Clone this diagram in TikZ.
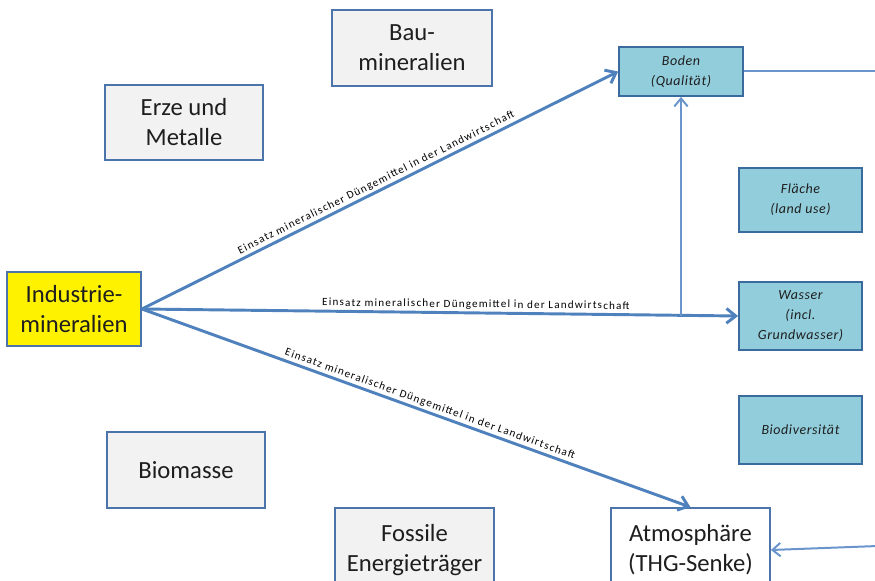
\documentclass[tikz,border=0pt]{standalone}
\usepackage{fontspec}
\setmainfont{Carlito}
\newfontfamily\lblfont[LetterSpace=11]{Carlito}
\newfontfamily\itfont[LetterSpace=4]{Carlito}
\usetikzlibrary{arrows.meta,calc}
\definecolor{grayfill}{HTML}{F2F2F2}
\definecolor{grayborder}{HTML}{4A74AA}
\definecolor{bluefill}{HTML}{92CDDC}
\definecolor{blueborder}{HTML}{3A6A9E}
\definecolor{arrowblue}{HTML}{4F81BD}
\definecolor{lightarrow}{HTML}{6A95CC}
\definecolor{txt}{HTML}{1E1E1E}
\tikzset{
  graybox/.style={draw=grayborder, fill=grayfill, line width=1.3pt, align=center, inner sep=0pt,
    text=txt, font=\fontsize{18.5}{22.5}\selectfont},
  yellowbox/.style={graybox, fill=yellow},
  whitebox/.style={graybox, fill=white},
  bluebox/.style={draw=blueborder, fill=bluefill, line width=1.3pt, align=center, inner sep=0pt,
    text=txt, font=\itfont\itshape\fontsize{10.5}{15}\selectfont},
  conn/.style={draw=arrowblue, line width=2.2pt},
  thinconn/.style={draw=lightarrow, line width=1.5pt},
  arr/.style={conn, -{Straight Barb[length=7pt,width=11pt]}},
  thinarr/.style={thinconn, -{Straight Barb[length=6pt,width=10pt]}},
  elabel/.style={sloped, above, inner sep=1.5pt, text=black, font=\lblfont\fontsize{8.3}{10}\selectfont}
}
\begin{document}
\begin{tikzpicture}[x=0.75pt,y=-0.75pt]
\useasboundingbox (0,0) rectangle (875,581);
% source boxes
\node[graybox, minimum width=160*0.75pt, minimum height=76*0.75pt] (bau) at (412,48) {Bau-\\mineralien};
\node[graybox, minimum width=158*0.75pt, minimum height=75*0.75pt] (erze) at (184,122.5) {Erze und\\Metalle};
\node[yellowbox, minimum width=134*0.75pt, minimum height=74*0.75pt] (ind) at (74,309) {Industrie-\\mineralien};
\node[graybox, minimum width=158*0.75pt, minimum height=76*0.75pt] (bio) at (186,470) {Biomasse};
\node[graybox, minimum width=159*0.75pt, minimum height=84*0.75pt] (foss) at (414.5,550) {Fossile\\Energieträger};
\node[whitebox, minimum width=159*0.75pt, minimum height=84*0.75pt] (atm) at (690.5,550) {Atmosphäre\\(THG-Senke)};
% target boxes
\node[bluebox, minimum width=124*0.75pt, minimum height=49*0.75pt] (boden) at (681,71.5) {Boden\\(Qualität)};
\node[bluebox, minimum width=123*0.75pt, minimum height=64*0.75pt] (flaeche) at (800.5,200) {Fläche\\(land use)};
\node[bluebox, minimum width=123*0.75pt, minimum height=68*0.75pt] (wasser) at (800.5,316) {Wasser\\(incl.\\Grundwasser)};
\node[bluebox, minimum width=123*0.75pt, minimum height=68*0.75pt] (biodiv) at (800.5,430) {Biodiversität};
% free ends
\coordinate (r1) at (878,71.5);
\coordinate (r2) at (878,546);
\coordinate (j) at (boden.south |- wasser.west);
% connectors
\draw[arr] (ind.east) -- (boden.west)
  node[elabel, pos=0.5] {Einsatz mineralischer Düngemittel in der Landwirtschaft};
\draw[arr] (ind.east) -- (wasser.west)
  node[elabel, pos=0.56] {Einsatz mineralischer Düngemittel in der Landwirtschaft};
\draw[arr] (ind.east) -- (atm.north)
  node[elabel, pos=0.52] {Einsatz mineralischer Düngemittel in der Landwirtschaft};
\draw[thinarr] (j) -- (boden.south);
\draw[thinconn] (boden.east) -- (r1);
\draw[thinarr] (r2) -- (atm.east);
\end{tikzpicture}
\end{document}
